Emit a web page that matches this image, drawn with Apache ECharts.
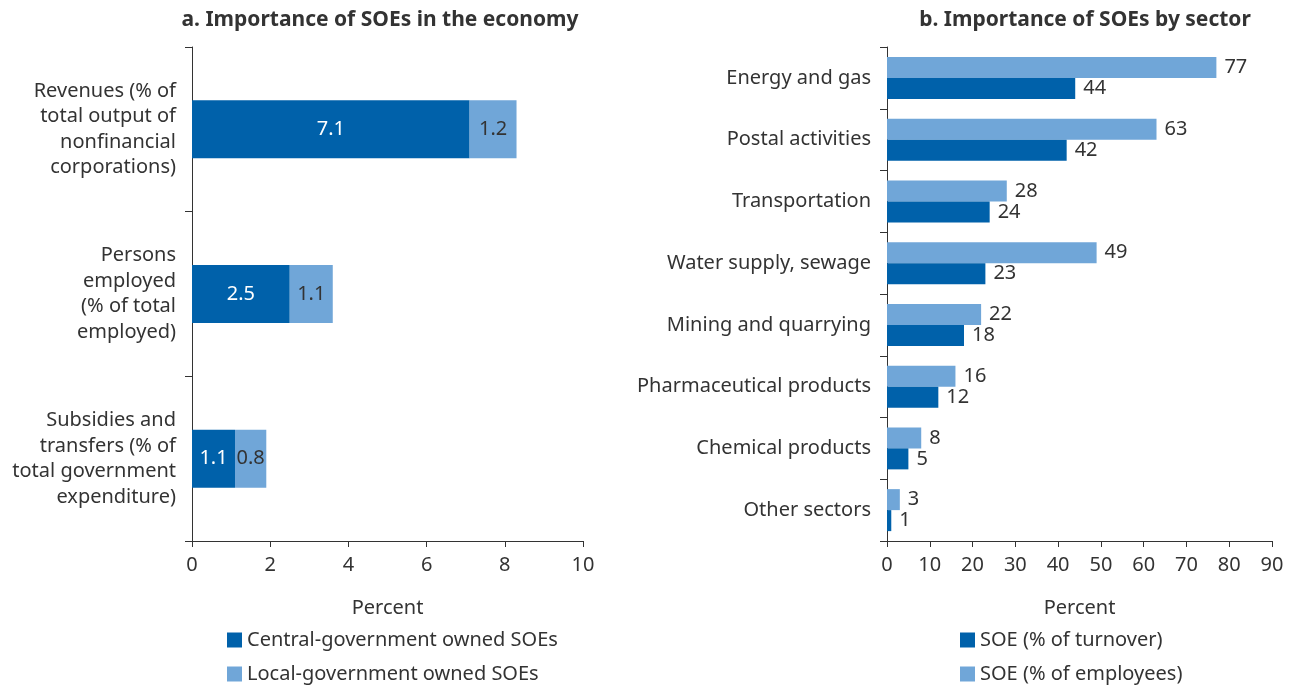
<!DOCTYPE html>
<html>
<head>
<meta charset="utf-8">
<script src="https://cdn.jsdelivr.net/npm/echarts@6/dist/echarts.min.js"></script>
<style>
  html, body { margin: 0; padding: 0; background: #fff; }
  #main { width: 1307px; height: 685px; }
</style>
</head>
<body>
<div id="main"></div>
<script>
// panel a: importance of SOEs in the economy
var economyCats = [
  'Revenues (% of\ntotal output of\nnonfinancial\ncorporations)',
  'Persons\nemployed\n(% of total\nemployed)',
  'Subsidies and\ntransfers (% of\ntotal government\nexpenditure)'
];
var centralSOE = [7.1, 2.5, 1.1];
var localSOE = [1.2, 1.1, 0.8];

// panel b: importance of SOEs by sector
var sectorCats = [
  'Energy and gas',
  'Postal activities',
  'Transportation',
  'Water supply, sewage',
  'Mining and quarrying',
  'Pharmaceutical products',
  'Chemical products',
  'Other sectors'
];
var turnover = [44, 42, 24, 23, 18, 12, 5, 1];
var employees = [77, 63, 28, 49, 22, 16, 8, 3];

var DARK = '#0061aa';
var LIGHT = '#70a6d8';
var TEXT = '#333333';
var FONT = 'Noto Sans';
var FS = 20;

var chart = echarts.init(document.getElementById('main'));

function valueAxis(idx, max, interval) {
  return {
    type: 'value',
    gridIndex: idx,
    min: 0,
    max: max,
    interval: interval,
    name: 'Percent',
    nameLocation: 'middle',
    nameGap: 57,
    nameTextStyle: { color: TEXT, fontSize: FS, fontFamily: FONT },
    axisLine: { show: true, lineStyle: { color: TEXT, width: 1 } },
    axisTick: { show: true, length: 6, lineStyle: { color: TEXT } },
    axisLabel: { color: TEXT, fontSize: FS, fontFamily: FONT, margin: 14 },
    splitLine: { show: false }
  };
}

function catAxis(idx, data, lineHeight) {
  return {
    type: 'category',
    gridIndex: idx,
    data: data,
    inverse: true,
    axisLine: { show: true, lineStyle: { color: TEXT, width: 1 } },
    axisTick: { show: true, length: 7, lineStyle: { color: TEXT } },
    axisLabel: {
      color: TEXT, fontSize: FS, fontFamily: FONT,
      margin: 16, align: 'right', lineHeight: lineHeight
    }
  };
}

// one legend per entry so they stack vertically
function legendItem(name, left, top) {
  return {
    left: left, top: top,
    padding: 0,
    itemWidth: 15, itemHeight: 15,
    icon: 'rect',
    data: [name],
    textStyle: { color: TEXT, fontSize: FS, fontFamily: FONT }
  };
}

var option = {
  animation: false,
  textStyle: { fontFamily: FONT },
  title: [
    {
      text: 'a. Importance of SOEs in the economy',
      left: 375, top: 5, textAlign: 'center',
      textStyle: { color: TEXT, fontSize: 21, fontWeight: 'bold', fontFamily: FONT }
    },
    {
      text: 'b. Importance of SOEs by sector',
      left: 1080, top: 5, textAlign: 'center',
      textStyle: { color: TEXT, fontSize: 21, fontWeight: 'bold', fontFamily: FONT }
    }
  ],
  legend: [
    legendItem('Central-government owned SOEs', 227, 630),
    legendItem('Local-government owned SOEs', 227, 664),
    legendItem('SOE (% of turnover)', 960, 630),
    legendItem('SOE (% of employees)', 960, 664)
  ],
  grid: [
    { left: 192, top: 47, width: 391, height: 494 },
    { left: 887, top: 47, width: 385, height: 494 }
  ],
  xAxis: [
    valueAxis(0, 10, 2),
    valueAxis(1, 90, 10)
  ],
  yAxis: [
    catAxis(0, economyCats, 25.5),
    catAxis(1, sectorCats, 22)
  ],
  series: [
    {
      name: 'Central-government owned SOEs',
      type: 'bar',
      xAxisIndex: 0, yAxisIndex: 0,
      stack: 'soe',
      barWidth: 58,
      data: centralSOE,
      itemStyle: { color: DARK },
      label: { show: true, position: 'inside', color: '#fff', fontSize: FS, fontFamily: FONT }
    },
    {
      name: 'Local-government owned SOEs',
      type: 'bar',
      xAxisIndex: 0, yAxisIndex: 0,
      stack: 'soe',
      barWidth: 58,
      data: localSOE,
      itemStyle: { color: LIGHT },
      label: { show: true, position: 'inside', color: TEXT, fontSize: FS, fontFamily: FONT }
    },
    {
      name: 'SOE (% of employees)',
      type: 'bar',
      xAxisIndex: 1, yAxisIndex: 1,
      barWidth: 21,
      barGap: '0%',
      data: employees,
      itemStyle: { color: LIGHT },
      label: { show: true, position: 'right', distance: 8, color: TEXT, fontSize: FS, fontFamily: FONT }
    },
    {
      name: 'SOE (% of turnover)',
      type: 'bar',
      xAxisIndex: 1, yAxisIndex: 1,
      barWidth: 21,
      barGap: '0%',
      data: turnover,
      itemStyle: { color: DARK },
      label: { show: true, position: 'right', distance: 8, color: TEXT, fontSize: FS, fontFamily: FONT }
    }
  ]
};

chart.setOption(option);
</script>
</body>
</html>
